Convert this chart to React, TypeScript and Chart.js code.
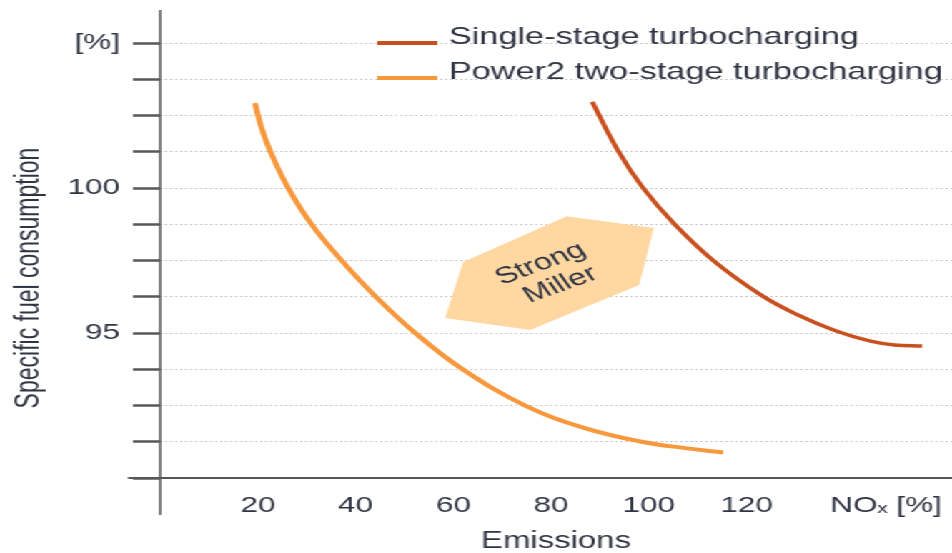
import React, { useEffect, useRef } from 'react';
import { Chart, registerables } from 'chart.js';

Chart.register(...registerables);

// ---- data ----
const seriesNames = ['Single-stage turbocharging', 'Power2 two-stage turbocharging'];

const singleStageNOx = [88.4, 93.7, 98.8, 105.2, 113.3, 123.2, 130.5, 138.3, 145.3, 150.2, 155.9];
const singleStageSFC = [102.97, 101.28, 100.0, 98.76, 97.48, 96.28, 95.62, 95.07, 94.72, 94.59, 94.55];

const twoStageNOx = [19.4, 20.7, 22.5, 26.2, 31.1, 37.4, 44.2, 52.2, 61.8, 74.9, 86.9, 98.2, 107.4, 115.2];
const twoStageSFC = [102.93, 102.1, 101.28, 100.0, 98.72, 97.45, 96.24, 95.0, 93.76, 92.48, 91.72, 91.26, 91.03, 90.88];

const yTickValues = [90, 91.25, 92.5, 93.75, 95, 96.25, 97.5, 98.75, 100, 101.25, 102.5, 103.75, 105];
const yTickLabels = ['', '', '', '', '95', '', '', '', '100', '', '', '', '[%]'];

const xTickValues = [20, 40, 60, 80, 100, 120, 148.5];
const xTickLabels = ['20', '40', '60', '80', '100', '120', 'NOₓ [%]'];

const millerZoneNOx = [58.3, 62.0, 83.2, 101.0, 98.0, 75.7];
const millerZoneSFC = [95.52, 97.45, 99.03, 98.62, 96.66, 95.1];
const millerLabel = ['Strong', 'Miller'];
const millerLabelAt = [79.5, 97.0];

const xTitle = 'Emissions';
const yTitle = 'Specific fuel consumption';

// ---- styles ----
const W = 666;
const H = 553;
const SX = 952 / W;
const FONT = '"Liberation Sans", Arial, Helvetica, sans-serif';
const TEXT = '#2f3442';
const AXIS = '#575757';
const RED = '#c8501f';
const ORANGE = '#f7983d';
const ZONE = '#fed7a1';

const decor = {
  id: 'decor',
  beforeDatasetsDraw(chart: any) {
    const { ctx, scales } = chart;
    const x = scales.x;
    const y = scales.y;
    ctx.save();
    ctx.beginPath();
    millerZoneNOx.forEach((v, i) => {
      const px = x.getPixelForValue(v);
      const py = y.getPixelForValue(millerZoneSFC[i]);
      if (i === 0) ctx.moveTo(px, py);
      else ctx.lineTo(px, py);
    });
    ctx.closePath();
    ctx.fillStyle = ZONE;
    ctx.fill();

    ctx.translate(x.getPixelForValue(millerLabelAt[0]), y.getPixelForValue(millerLabelAt[1]));
    ctx.rotate((-27 * Math.PI) / 180);
    ctx.font = `23px ${FONT}`;
    ctx.fillStyle = TEXT;
    ctx.textAlign = 'center';
    ctx.textBaseline = 'middle';
    ctx.fillText(millerLabel[0], 0, -12.5);
    ctx.fillText(millerLabel[1], 3, 12.5);
    ctx.restore();
  },
  afterDraw(chart: any) {
    const { ctx, chartArea, scales } = chart;
    const x = scales.x;
    const y = scales.y;
    const x0 = x.getPixelForValue(0);
    const y0 = y.getPixelForValue(90);
    ctx.save();
    // axis lines
    ctx.strokeStyle = AXIS;
    ctx.lineWidth = 1.5;
    ctx.beginPath();
    ctx.moveTo(x0, chartArea.top);
    ctx.lineTo(x0, y0 + 37);
    ctx.stroke();
    ctx.lineWidth = 2;
    ctx.beginPath();
    ctx.moveTo(x0 - 22.5, y0);
    ctx.lineTo(chartArea.right, y0);
    ctx.stroke();

    // legend
    const rows = [44, 79];
    chart.data.datasets.forEach((ds: any, i: number) => {
      const by = rows[i];
      ctx.strokeStyle = ds.borderColor;
      ctx.lineWidth = 4;
      ctx.beginPath();
      ctx.moveTo(264, by - 1);
      ctx.lineTo(306, by - 1);
      ctx.stroke();
      ctx.font = `24px ${FONT}`;
      ctx.fillStyle = TEXT;
      ctx.textAlign = 'left';
      ctx.textBaseline = 'alphabetic';
      ctx.fillText(ds.label, 314, by);
    });

    // y title
    ctx.translate(21, 278);
    ctx.rotate(-Math.PI / 2);
    ctx.font = `23px ${FONT}`;
    ctx.fillStyle = TEXT;
    ctx.textAlign = 'center';
    ctx.textBaseline = 'middle';
    ctx.fillText(yTitle, 0, 0);
    ctx.restore();
  },
};

export default function App() {
  const ref = useRef<HTMLCanvasElement | null>(null);

  useEffect(() => {
    if (!ref.current) return;
    Chart.defaults.font.family = FONT;
    const chart = new Chart(ref.current, {
      type: 'scatter',
      data: {
        datasets: [
          {
            label: seriesNames[0],
            data: singleStageNOx.map((v, i) => ({ x: v, y: singleStageSFC[i] })),
            showLine: true,
            borderColor: RED,
            backgroundColor: RED,
            borderWidth: 3.5,
            pointRadius: 0,
            tension: 0.4,
            fill: false,
          },
          {
            label: seriesNames[1],
            data: twoStageNOx.map((v, i) => ({ x: v, y: twoStageSFC[i] })),
            showLine: true,
            borderColor: ORANGE,
            backgroundColor: ORANGE,
            borderWidth: 4,
            pointRadius: 0,
            tension: 0.4,
            fill: false,
          },
        ],
      },
      options: {
        responsive: false,
        animation: false,
        events: [],
        layout: { padding: { top: 10, left: 0, right: 0, bottom: 0 } },
        plugins: { legend: { display: false }, tooltip: { enabled: false } },
        scales: {
          x: {
            type: 'linear',
            min: 0,
            max: 162,
            afterBuildTicks: (s: any) => {
              s.ticks = xTickValues.map((v) => ({ value: v }));
            },
            afterFit: (s: any) => {
              s.height = 75;
              s.paddingLeft = 0;
              s.paddingRight = 0;
            },
            grid: { display: false, drawTicks: false },
            border: { display: false },
            ticks: {
              autoSkip: false,
              maxRotation: 0,
              minRotation: 0,
              padding: 15,
              color: TEXT,
              font: { family: FONT, size: 22 },
              callback: (_v: any, i: number) => xTickLabels[i],
            },
            title: {
              display: true,
              text: xTitle,
              color: TEXT,
              font: { family: FONT, size: 23, lineHeight: 1 },
              padding: 0,
            },
          },
          y: {
            type: 'linear',
            min: 90,
            max: 106.14,
            afterBuildTicks: (s: any) => {
              s.ticks = yTickValues.map((v) => ({ value: v }));
            },
            afterFit: (s: any) => {
              s.width = 112;
              s.paddingTop = 0;
              s.paddingBottom = 0;
            },
            grid: {
              color: '#c2c2c2',
              lineWidth: 1,
              drawTicks: true,
              tickColor: AXIS,
              tickWidth: 2.5,
              tickLength: 19,
              tickBorderDash: [],
            },
            border: { display: false, dash: [1.5, 2] },
            ticks: {
              padding: 9,
              color: TEXT,
              font: { family: FONT, size: 22 },
              callback: (_v: any, i: number) => yTickLabels[i],
            },
          },
        },
      } as any,
      plugins: [decor],
    });
    return () => chart.destroy();
  }, []);

  return (
    <div
      style={{
        position: 'absolute',
        left: 0,
        top: 0,
        width: W,
        height: H,
        transform: `scaleX(${SX})`,
        transformOrigin: '0 0',
        background: '#ffffff',
      }}
    >
      <canvas ref={ref} width={W} height={H} style={{ display: 'block' }} />
    </div>
  );
}
